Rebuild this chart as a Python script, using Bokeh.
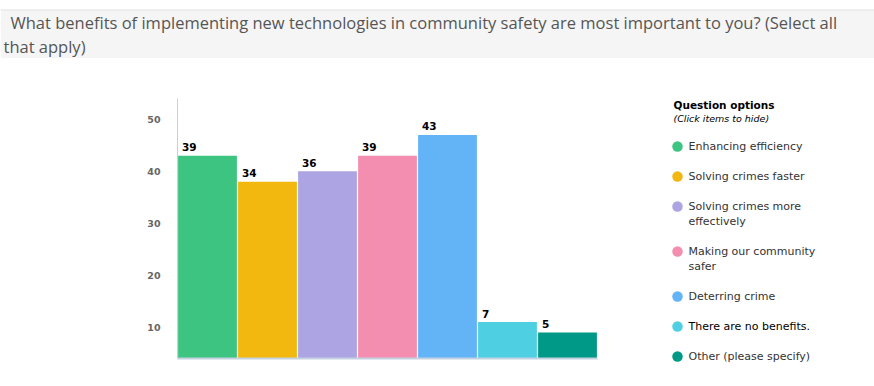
from bokeh.plotting import figure
from bokeh.layouts import column, row
from bokeh.models import Range1d, FixedTicker, Label, ColumnDataSource, BoxAnnotation
from bokeh.core.properties import value
from bokeh.embed import file_html
from bokeh.resources import INLINE

# ---- data ----
title_lines = ["What benefits of implementing new technologies in community safety are most important to you? (Select all",
               "that apply)"]
categories = ["Enhancing efficiency", "Solving crimes faster", "Solving crimes more\neffectively",
              "Making our community\nsafer", "Deterring crime", "There are no benefits.",
              "Other (please specify)"]
counts = [39, 34, 36, 39, 43, 7, 5]
colors = ["#3EC481", "#F2B80F", "#ACA4E3", "#F38EB1", "#63B4F6", "#4ED0E2", "#009987"]
tick_positions = [6, 16, 26, 36, 46]
tick_labels = ["10", "20", "30", "40", "50"]
legend_title = "Question options"
legend_subtitle = "(Click items to hide)"

W, H = 874, 386
TH = 58              # title band figure height
CW = 648             # chart figure width
FL, FR, FT, FB = 177, 597, 98, 358   # frame edges in page pixels


def bare(fig):
    fig.outline_line_color = None
    fig.xgrid.visible = False
    fig.ygrid.visible = False
    return fig


# ---- title band ----
tfig = bare(figure(width=W, height=TH, output_backend="svg", toolbar_location=None,
                   x_axis_location=None, y_axis_location=None,
                   x_range=Range1d(0, W), y_range=Range1d(TH, 0), min_border=0))
tfig.frame_align = False
tfig.add_layout(BoxAnnotation(left=0, right=W, top=10, bottom=TH, fill_color="#F5F5F5",
                              fill_alpha=1, line_color=None, level="underlay"))
tfig.add_layout(BoxAnnotation(left=0, right=W, top=9, bottom=10, fill_color="#DDDDDD",
                              fill_alpha=1, line_color=None, level="underlay"))
for txt, px, py in zip(title_lines, [10, 3], [22, 46]):
    tfig.add_layout(Label(x=px, y=py, text=txt, text_font="Open Sans", text_font_size="16.5px",
                          text_color="#555555", text_baseline="alphabetic"))

# ---- bar chart ----
idx = list(range(len(categories)))
src = ColumnDataSource(dict(x=idx, top=counts, color=colors, lab=[str(c) for c in counts]))
p = bare(figure(width=CW, height=H - TH, output_backend="svg", toolbar_location=None,
                x_range=Range1d(-0.5, len(categories) - 0.5), y_range=Range1d(0, 50),
                min_border_left=FL, min_border_right=CW - FR,
                min_border_top=FT - TH, min_border_bottom=H - FB))
p.frame_align = False
p.vbar(x="x", top="top", bottom=0, width=0.98, color="color", line_color=None, source=src)
p.text(x="x", y="top", text="lab", source=src, x_offset=-25.5, y_offset=-8.5,
       text_align="left", text_baseline="alphabetic", text_font=value("DejaVu Sans"),
       text_font_size="10.5px", text_font_style="bold", text_color="#000000")

p.yaxis.ticker = FixedTicker(ticks=tick_positions)
p.yaxis.major_label_overrides = dict(zip(tick_positions, tick_labels))
p.yaxis.minor_tick_line_color = None
p.yaxis.major_tick_line_color = None
p.yaxis.major_tick_out = 0
p.yaxis.major_tick_in = 0
p.yaxis.major_label_standoff = 17
p.yaxis.axis_line_color = "#C3D1E0"
p.yaxis.major_label_text_font = "DejaVu Sans"
p.yaxis.major_label_text_font_size = "9.5px"
p.yaxis.major_label_text_font_style = "bold"
p.yaxis.major_label_text_color = "#666666"

p.xaxis.ticker = FixedTicker(ticks=[])
p.xaxis.minor_tick_line_color = None
p.xaxis.major_tick_line_color = None
p.xaxis.axis_line_color = "#C3D1E0"
p.xaxis.axis_line_width = 2

# ---- legend panel (coordinates = pixels inside this panel) ----
LW, LH = W - CW, H - TH
lfig = bare(figure(width=LW, height=LH, output_backend="svg", toolbar_location=None,
                   x_axis_location=None, y_axis_location=None,
                   x_range=Range1d(0, LW), y_range=Range1d(LH, 0), min_border=0))
lfig.frame_align = False
lfig.add_layout(Label(x=25, y=46, text=legend_title, text_font="DejaVu Sans", text_font_size="10.5px",
                      text_font_style="bold", text_color="#000000", text_baseline="middle"))
lfig.add_layout(Label(x=25, y=60, text=legend_subtitle, text_font="DejaVu Sans", text_font_size="9.5px",
                      text_font_style="italic", text_color="#000000", text_baseline="middle"))
ys = []
cy = 88
for name in categories:
    ys.append(cy)
    cy += 30 + 15 * name.count("\n")
lfig.scatter(x=[29] * len(categories), y=ys, size=10.5, marker="circle", color=colors, line_color=None)
for name, yy in zip(categories, ys):
    tc = "#000000" if name.startswith("There") else "#333333"
    for j, line in enumerate(name.split("\n")):
        lfig.add_layout(Label(x=40, y=yy + 15 * j, text=line, text_font="DejaVu Sans",
                              text_font_size="11px", text_color=tc, text_baseline="middle"))

layout = column(tfig, row(p, lfig))
open("out.html", "w").write(file_html(layout, INLINE))
